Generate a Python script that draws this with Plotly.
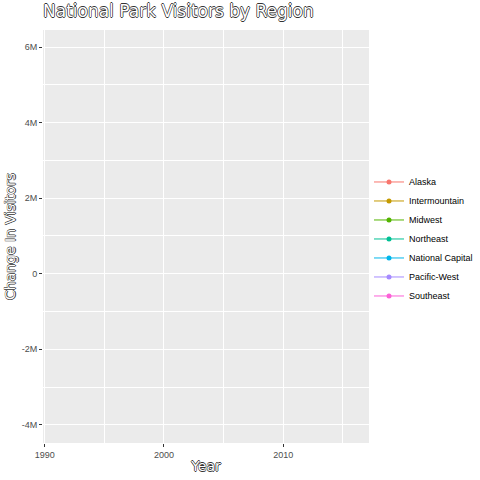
import plotly.graph_objects as go

regions = ["Alaska", "Intermountain", "Midwest", "Northeast", "National Capital", "Pacific-West", "Southeast"]
colors = ["#F8766D", "#C49A00", "#53B400", "#00C094", "#00B6EB", "#A58AFF", "#FB61D7"]
# first animation frame: no visible points yet
years = [None]
changes = {r: [None] for r in regions}

x_ticks = [1990, 2000, 2010]
x_labels = ["1990", "2000", "2010"]
y_ticks = [-4e6, -2e6, 0, 2e6, 4e6, 6e6]
y_labels = ["-4M", "-2M", "0", "2M", "4M", "6M"]

fig = go.Figure()
for r, c in zip(regions, colors):
    fig.add_trace(go.Scatter(x=years, y=changes[r], name=r, mode="lines+markers",
                             line=dict(color=c, width=1), marker=dict(color=c, size=5)))

outline = "-0.7px 0 #333, 0.7px 0 #333, 0 0.7px #333, 0 -0.7px #333"
title_font = "DejaVu Sans, Liberation Sans, sans-serif"
fig.update_layout(
    width=480, height=480,
    margin=dict(l=43, r=111, t=30, b=37, autoexpand=False),
    paper_bgcolor="white", plot_bgcolor="#EBEBEB",
    font=dict(family="Liberation Sans, Arial, sans-serif", color="#4D4D4D", size=9),
    title=dict(text="National Park Visitors by Region", x=43/480, xanchor="left",
               y=1-11/480, yanchor="middle",
               font=dict(family=title_font, size=17, color="white", shadow=outline)),
    showlegend=True,
    legend=dict(x=1.0, xanchor="left", y=0.494, yanchor="middle",
                font=dict(size=9, color="black"), tracegroupgap=0,
                itemwidth=30, bgcolor="rgba(0,0,0,0)"),
    xaxis=dict(range=[1989.86, 2017.2], tickvals=x_ticks, ticktext=x_labels,
               automargin=False,
               showgrid=True, gridcolor="white", gridwidth=1.1, zeroline=False,
               ticks="outside", ticklen=3, tickcolor="#333333", tickwidth=1,
               tickfont=dict(size=9, color="#4D4D4D"),
               minor=dict(dtick=5, tick0=1995, showgrid=True, gridcolor="white", gridwidth=0.5),
               title=dict(text="Year", standoff=2,
                          font=dict(family=title_font, size=14, color="white", shadow=outline))),
    yaxis=dict(range=[-4.48e6, 6.45e6], tickvals=y_ticks, ticktext=y_labels,
               automargin=False,
               showgrid=True, gridcolor="white", gridwidth=1.1, zeroline=False,
               ticks="outside", ticklen=3, tickcolor="#333333", tickwidth=1,
               tickfont=dict(size=9, color="#4D4D4D"),
               minor=dict(dtick=1e6, tick0=-5e6, showgrid=True, gridcolor="white", gridwidth=0.5),
               title=dict(text="Change In Visitors", standoff=2,
                          font=dict(family=title_font, size=14, color="white", shadow=outline))),
)
fig.write_html("out.html")
